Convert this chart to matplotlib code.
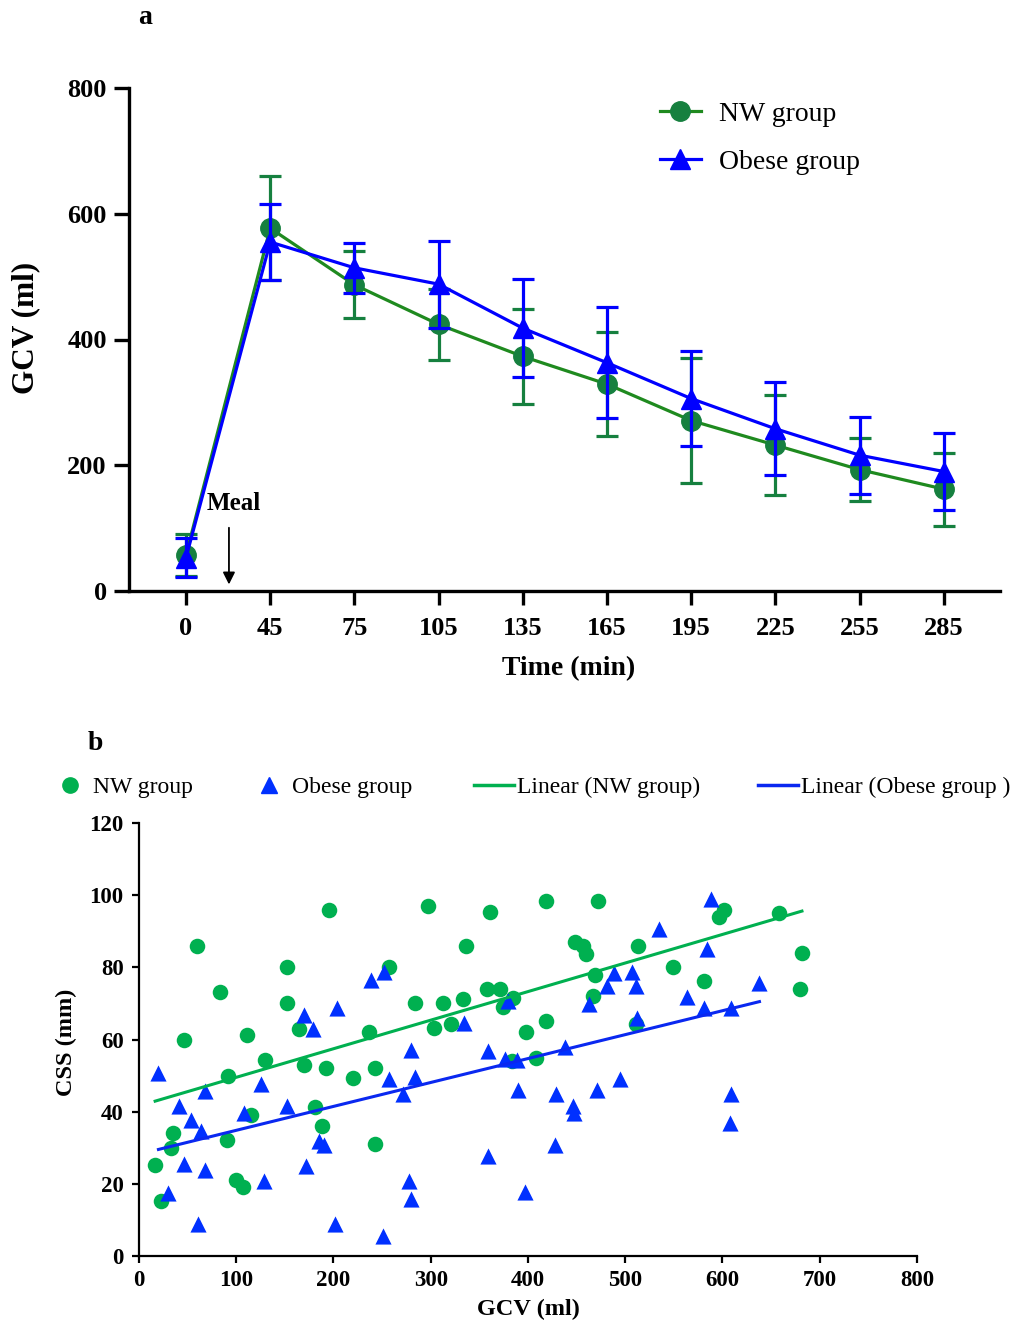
import matplotlib
matplotlib.use("Agg")
import matplotlib.pyplot as plt
from matplotlib.lines import Line2D
import numpy as np

plt.rcParams['font.family'] = ['Liberation Serif', 'DejaVu Serif']

# ---------------- data: panel a ----------------
time_labels = ['0', '45', '75', '105', '135', '165', '195', '225', '255', '285']
nw_mean = [57, 577, 487, 424, 373, 329, 271, 232, 193, 162]
nw_sd = [33, 83, 53, 57, 76, 83, 100, 80, 50, 58]
ob_mean = [53, 555, 514, 488, 418, 363, 306, 258, 216, 190]
ob_sd = [31, 61, 40, 69, 78, 88, 75, 74, 61, 61]
y_ticks_a = [0, 200, 400, 600, 800]

# ---------------- data: panel b ----------------
nw_gcv = [16.6, 23, 32.4, 34.8, 46, 60, 83.4, 91.7, 90.7, 100, 107, 111, 115.5, 130,
          152.4, 152.4, 164.8, 169.7, 181.4, 188.6, 192.8, 195, 220, 237, 242.8, 242.8,
          256.6, 283.8, 297, 303.8, 313, 320.7, 333, 336, 358, 361.4, 371.7, 374, 385,
          398.3, 383.5, 408.6, 419, 419, 448.3, 457, 459.7, 469, 467.2, 471.7, 511.4,
          513, 549.3, 581, 596.6, 601.7, 657.6, 681.7, 680]
nw_css = [25.2, 15.2, 30, 34, 60, 85.9, 73.1, 50, 32.2, 21, 19.1, 61.2, 39.2, 54.2,
          80, 70, 63, 53, 41.3, 36.1, 52, 96, 49.2, 62, 52, 31.1,
          80, 70, 97, 63.2, 70, 64.2, 71.2, 85.9, 74, 95.2, 74, 69, 71.4,
          62, 54, 55, 65, 98.3, 87, 86, 83.7, 78, 72, 98.3, 64.2,
          85.9, 80, 76.2, 93.9, 96, 95.1, 84, 74]
ob_gcv = [20, 30, 41.4, 46.6, 53.4, 61, 63.8, 68, 68.3, 107.6, 125.9, 128.3, 152.4,
          169.7, 171.4, 179.3, 185.5, 190.7, 201.4, 203.4, 238.6, 252.4, 251, 257,
          271.7, 277.2, 279.3, 280, 283.4, 334.5, 358.6, 358.6, 379.3, 375.9, 388.6,
          389.7, 396.6, 588.6, 534.5, 584.5, 488, 507, 481.7, 511.4, 638, 463, 563,
          581, 608.6, 512, 438, 494.8, 428.3, 470.7, 445.9, 447.2, 608.6, 608, 427.6]
ob_css = [50.8, 17.5, 41.7, 25.4, 37.7, 8.8, 34.6, 45.7, 23.7, 39.5, 47.6, 20.8, 41.7,
          66.9, 24.9, 62.8, 31.9, 30.9, 8.8, 68.8, 76.6, 78.8, 5.5, 49,
          44.8, 20.8, 15.7, 57, 49.6, 64.6, 56.8, 27.7, 70.6, 54.5, 54.2,
          46, 17.8, 98.8, 90.5, 85, 78.5, 78.7, 74.8, 74.8, 75.7, 69.9, 71.8,
          68.8, 68.8, 66, 57.9, 49, 44.8, 46, 41.7, 39.7, 44.8, 36.9, 30.9]
nw_fit = [0.0792, 41.6]   # slope, intercept
ob_fit = [0.0663, 28.2]

# ---------------- styles ----------------
NW_LINE = '#1f8a1f'
NW_MARK = '#16803f'
OB_COL = '#0000ff'
SC_GREEN = '#00b050'
SC_BLUE = '#0030ff'

fig = plt.figure(figsize=(10.2, 13.25), dpi=100)
W, H = 1020, 1325

def fx(px):
    return px / W

def fy(py):
    return 1 - py / H

# ================= panel a =================
axa = fig.add_axes([fx(129), fy(591), fx(1000 - 129), (591 - 88) / H])
pos = np.arange(len(time_labels))

axa.plot(pos, nw_mean, color=NW_LINE, lw=2.3, zorder=2)
axa.errorbar(pos, nw_mean, yerr=nw_sd, fmt='o', color=NW_MARK, ms=14, elinewidth=2.3,
             capsize=8, capthick=2.3, zorder=3, clip_on=False)
axa.plot(pos, ob_mean, color=OB_COL, lw=2.3, zorder=4)
axa.errorbar(pos, ob_mean, yerr=ob_sd, fmt='^', color=OB_COL, ms=14, elinewidth=2.3,
             capsize=8, capthick=2.3, zorder=5, clip_on=False)

axa.set_xlim(-0.677, 9.667)
axa.set_ylim(0, 800)
axa.set_xticks(pos)
axa.set_xticklabels(time_labels)
axa.set_yticks(y_ticks_a)
for s in ['top', 'right']:
    axa.spines[s].set_visible(False)
for s in ['left', 'bottom']:
    axa.spines[s].set_linewidth(2.4)
axa.tick_params(axis='y', direction='out', length=11, width=2.4, pad=5, labelsize=19)
axa.tick_params(axis='x', direction='out', length=10, width=2.4, pad=9, labelsize=19)
for lab in axa.get_xticklabels() + axa.get_yticklabels():
    lab.set_fontweight('bold')

fig.text(fx(569), fy(669), 'Time (min)', ha='center', va='center', fontsize=20, fontweight='bold')
fig.text(fx(26), fy(328), 'GCV (ml)', ha='center', va='center', rotation=90, fontsize=22.5,
         fontweight='bold')
fig.text(fx(145), fy(17), 'a', ha='center', va='center', fontsize=20, fontweight='bold')

axa.text(0.25, 139, 'Meal', ha='left', va='center', fontsize=18, fontweight='bold')
axa.annotate('', xy=(0.51, 6), xytext=(0.51, 105),
             arrowprops=dict(arrowstyle='-|>', color='black', lw=1.3, mutation_scale=18))

h_nw = Line2D([], [], color=NW_LINE, lw=2.3, marker='o', ms=14, mfc=NW_MARK, mec=NW_MARK)
h_ob = Line2D([], [], color=OB_COL, lw=2.3, marker='^', ms=14)
axa.legend([h_nw, h_ob], ['NW group', 'Obese group'], loc='upper left',
           bbox_to_anchor=(0.61, 0.973), frameon=False, fontsize=20, handlelength=1.45,
           handletextpad=0.65, labelspacing=0.8, borderpad=0, borderaxespad=0)

# ================= panel b =================
axb = fig.add_axes([fx(139), fy(1256), fx(917 - 139), (1256 - 823) / H])
axb.scatter(nw_gcv, nw_css, s=125, marker='o', color=SC_GREEN, linewidths=0, zorder=3)
axb.scatter(ob_gcv, ob_css, s=135, marker='^', color=SC_BLUE, linewidths=0, zorder=4)

xg = np.array([min(nw_gcv), max(nw_gcv)])
axb.plot(xg, nw_fit[0] * xg + nw_fit[1], color=SC_GREEN, lw=2.2, zorder=5)
xb = np.array([min(ob_gcv), max(ob_gcv)])
axb.plot(xb, ob_fit[0] * xb + ob_fit[1], color='#0a28f0', lw=2.2, zorder=5)

axb.set_xlim(0, 800)
axb.set_ylim(0, 120)
axb.set_xticks(np.arange(0, 801, 100))
axb.set_yticks(np.arange(0, 121, 20))
for s in ['top', 'right']:
    axb.spines[s].set_visible(False)
for s in ['left', 'bottom']:
    axb.spines[s].set_linewidth(1.6)
axb.tick_params(axis='y', direction='out', length=5, width=1.6, pad=6, labelsize=16.5)
axb.tick_params(axis='x', direction='out', length=5, width=1.6, pad=5, labelsize=16.5)
for lab in axb.get_xticklabels() + axb.get_yticklabels():
    lab.set_fontweight('bold')

fig.text(fx(528), fy(1309), 'GCV (ml)', ha='center', va='center', fontsize=17.5, fontweight='bold')
fig.text(fx(66), fy(1042), 'CSS (mm)', ha='center', va='center', rotation=90, fontsize=17.5,
         fontweight='bold')
fig.text(fx(95), fy(743), 'b', ha='center', va='center', fontsize=20, fontweight='bold')

# legend for panel b: four single entries positioned along the top
leg_items = [
    (Line2D([], [], ls='none', marker='o', ms=11, color=SC_GREEN), 'NW group', 50),
    (Line2D([], [], ls='none', marker='^', ms=12, color=SC_BLUE), 'Obese group', 249),
    (Line2D([], [], color=SC_GREEN, lw=2.5), 'Linear (NW group)', 474),
    (Line2D([], [], color='#0a28f0', lw=2.5), 'Linear (Obese group )', 758),
]
for h, lab, x0 in leg_items:
    fig.legend([h], [lab], loc='center left', bbox_to_anchor=(fx(x0), fy(787)),
               frameon=False, fontsize=17, handlelength=1.7, handletextpad=0.12,
               borderpad=0, borderaxespad=0)

fig.savefig('out.png', dpi=100)
